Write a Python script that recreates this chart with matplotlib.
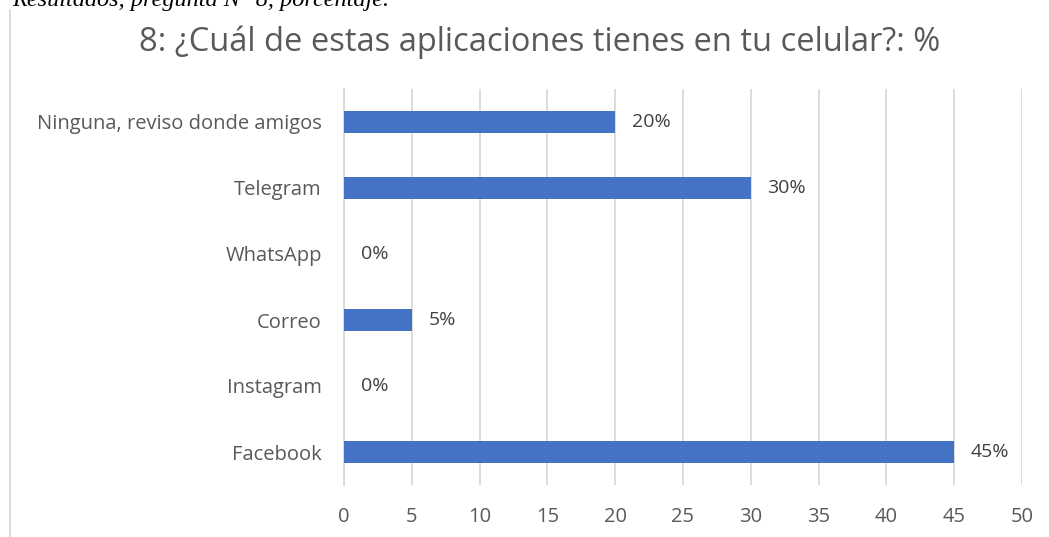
import matplotlib
matplotlib.use("Agg")
import matplotlib.pyplot as plt
from matplotlib.lines import Line2D

# datos de la pregunta 8
categorias = ["Facebook", "Instagram", "Correo", "WhatsApp", "Telegram",
              "Ninguna, reviso donde amigos"]
porcentajes = [45, 0, 5, 0, 30, 20]
ticks_x = [0, 5, 10, 15, 20, 25, 30, 35, 40, 45, 50]

titulo = "8: ¿Cuál de estas aplicaciones tienes en tu celular?: %"
encabezado = "Resultados, pregunta N° 8, porcentaje."

W, H = 1049, 537
fig = plt.figure(figsize=(W / 100, H / 100), dpi=100)
plt.rcParams["font.family"] = ["Open Sans", "DejaVu Sans"]

# axes: x 344..1022, y 89..485 (pixeles)
ax = fig.add_axes([344 / W, 1 - 485 / H, (1022 - 344) / W, (485 - 89) / H])

y = list(range(len(categorias)))
ax.barh(y, porcentajes, height=0.34, color="#4472C4", zorder=3)

for yi, v in zip(y, porcentajes):
    ax.annotate(f"{v}%", (v, yi), xytext=(12, 0), textcoords="offset points",
                va="center", ha="left", fontsize=14, color="#404040")

ax.set_xlim(0, 50)
ax.set_ylim(-0.5, len(categorias) - 0.5)
ax.set_xticks(ticks_x)
ax.set_yticks(y)
ax.set_yticklabels(categorias)
ax.tick_params(axis="both", length=0, labelsize=14.5, colors="#595959")
ax.tick_params(axis="x", pad=16)
ax.tick_params(axis="y", pad=16)
ax.grid(axis="x", color="#D9D9D9", linewidth=1.3, zorder=0)
for s in ["top", "right", "bottom"]:
    ax.spines[s].set_visible(False)
ax.spines["left"].set_color("#D9D9D9")
ax.spines["left"].set_linewidth(1.3)

fig.text(540 / W, 1 - 42 / H, titulo, ha="center", va="center",
         fontsize=23.5, color="#595959")

# encabezado del documento, cortado arriba
fig.text(12 / W, 1 - 6 / H, encabezado, ha="left", va="baseline",
         fontsize=17.5, style="italic", family="Liberation Serif", color="black")

# borde izquierdo del recuadro
fig.add_artist(Line2D([10 / W, 10 / W], [0, 1 - 10 / H], color="#D9D9D9",
                      linewidth=1.3, transform=fig.transFigure))

fig.savefig("out.png", dpi=100)
